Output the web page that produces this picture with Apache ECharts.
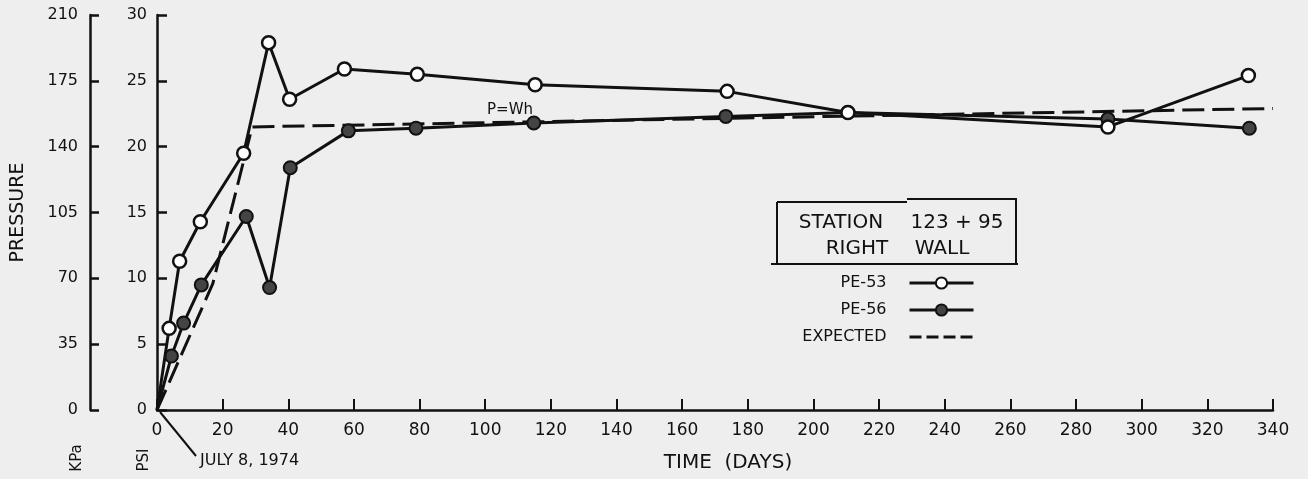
<!DOCTYPE html>
<html>
<head>
<meta charset="utf-8">
<script src="https://cdn.jsdelivr.net/npm/echarts@6/dist/echarts.min.js"></script>
<style>
  html, body { margin: 0; padding: 0; background: #eeeeee; }
  #main { width: 1308px; height: 479px; }
</style>
</head>
<body>
<div id="main"></div>
<script>
// values (days, psi)
var pe53Days = [0, 3.7, 6.9, 13.2, 26.4, 34, 40.4, 57.1, 79.3, 115.2, 173.7, 210.5, 289.7, 332.5]
var pe53Psi = [0, 6.2, 11.3, 14.3, 19.5, 27.9, 23.6, 25.9, 25.5, 24.7, 24.2, 22.6, 21.5, 25.4]

var pe56Days = [0, 4.4, 8.1, 13.5, 27.2, 34.3, 40.6, 58.3, 78.9, 114.8, 173.3, 210.5, 289.7, 332.8]
var pe56Psi = [0, 4.1, 6.6, 9.5, 14.7, 9.3, 18.4, 21.2, 21.4, 21.8, 22.3, 22.6, 22.1, 21.4]

var expectedDays = [0, 17, 29, 340]
var expectedPsi = [0, 9.6, 21.5, 22.9]

var font = 'DejaVu Sans'
var ink = '#111'

function pairs(days, vals) {
  return days.map(function (d, i) {
    // no marker drawn at the origin
    if (i === 0) return { value: [d, vals[i]], symbol: 'none' }
    return [d, vals[i]]
  })
}

var myChart = echarts.init(document.getElementById('main'))

var option = {
  backgroundColor: '#eeeeee',
  animation: false,
  grid: { left: 157, right: 35, top: 15, bottom: 69, outerBoundsMode: 'none' },
  legend: {
    orient: 'vertical',
    align: 'right',
    right: 333,
    top: 275,
    padding: 0,
    itemWidth: 64,
    itemHeight: 14,
    itemGap: 11,
    lineStyle: { width: 3 },
    textStyle: { fontFamily: font, fontSize: 16, color: ink, padding: [0, 18, 0, 0] },
    data: [
      'PE-53',
      'PE-56',
      { name: 'EXPECTED', itemStyle: { opacity: 0 }, lineStyle: { type: [12, 5], width: 3 } }
    ]
  },
  xAxis: {
    type: 'value',
    min: 0,
    max: 340,
    interval: 20,
    name: 'TIME  (DAYS)',
    nameLocation: 'middle',
    nameGap: 43,
    nameTextStyle: { fontFamily: font, fontSize: 20, color: ink, padding: [0, 0, 0, 26] },
    axisLine: { lineStyle: { color: ink, width: 2.5 } },
    axisTick: { inside: true, length: 11, lineStyle: { color: ink, width: 2 } },
    axisLabel: { fontFamily: font, fontSize: 17, color: ink, margin: 12 },
    splitLine: { show: false }
  },
  yAxis: [
    {
      type: 'value',
      min: 0,
      max: 30,
      interval: 5,
      axisLine: { show: true, lineStyle: { color: ink, width: 2.5 } },
      axisTick: { show: true, inside: true, length: 10, lineStyle: { color: ink, width: 2.5 } },
      axisLabel: { fontFamily: font, fontSize: 16, color: ink, margin: 10 },
      splitLine: { show: false }
    },
    {
      type: 'value',
      position: 'left',
      offset: 67,
      min: 0,
      max: 210,
      interval: 35,
      name: 'PRESSURE',
      nameLocation: 'middle',
      nameGap: 62,
      nameTextStyle: { fontFamily: font, fontSize: 19, color: ink },
      axisLine: { show: true, lineStyle: { color: ink, width: 2.5 } },
      axisTick: { show: true, inside: true, length: 9, lineStyle: { color: ink, width: 2.5 } },
      axisLabel: { fontFamily: font, fontSize: 16, color: ink, margin: 12 },
      splitLine: { show: false }
    }
  ],
  series: [
    {
      name: 'EXPECTED',
      type: 'line',
      data: pairs(expectedDays, expectedPsi),
      symbol: 'none',
      lineStyle: { color: ink, width: 3, type: [22, 8] },
      itemStyle: { color: ink },
      z: 1
    },
    {
      name: 'PE-53',
      type: 'line',
      data: pairs(pe53Days, pe53Psi),
      symbol: 'circle',
      symbolSize: 13,
      showAllSymbol: true,
      lineStyle: { color: ink, width: 3 },
      itemStyle: { color: '#ffffff', borderColor: ink, borderWidth: 2.5 },
      z: 3
    },
    {
      name: 'PE-56',
      type: 'line',
      data: pairs(pe56Days, pe56Psi),
      symbol: 'circle',
      symbolSize: 13,
      showAllSymbol: true,
      lineStyle: { color: ink, width: 3 },
      itemStyle: { color: '#444444', borderColor: ink, borderWidth: 2 },
      z: 2
    }
  ],
  graphic: [
    // station box
    { type: 'line', shape: { x1: 777, y1: 202, x2: 907, y2: 202 }, style: { stroke: ink, lineWidth: 2 } },
    { type: 'line', shape: { x1: 907, y1: 199, x2: 1017, y2: 199 }, style: { stroke: ink, lineWidth: 2 } },
    { type: 'line', shape: { x1: 777, y1: 202, x2: 777, y2: 263 }, style: { stroke: ink, lineWidth: 2 } },
    { type: 'line', shape: { x1: 1016, y1: 199, x2: 1016, y2: 263 }, style: { stroke: ink, lineWidth: 2 } },
    { type: 'line', shape: { x1: 771, y1: 264, x2: 1018, y2: 264 }, style: { stroke: ink, lineWidth: 2 } },
    { type: 'text', x: 841, y: 223, style: { text: 'STATION', font: '20px "DejaVu Sans"', fill: ink, align: 'center', verticalAlign: 'middle' } },
    { type: 'text', x: 957, y: 223, style: { text: '123 + 95', font: '20px "DejaVu Sans"', fill: ink, align: 'center', verticalAlign: 'middle' } },
    { type: 'text', x: 857, y: 249, style: { text: 'RIGHT', font: '20px "DejaVu Sans"', fill: ink, align: 'center', verticalAlign: 'middle' } },
    { type: 'text', x: 942, y: 249, style: { text: 'WALL', font: '20px "DejaVu Sans"', fill: ink, align: 'center', verticalAlign: 'middle' } },
    // annotations
    { type: 'text', x: 510, y: 110, style: { text: 'P=Wh', font: '15px "DejaVu Sans"', fill: ink, align: 'center', verticalAlign: 'middle' } },
    { type: 'text', x: 200, y: 461, style: { text: 'JULY 8, 1974', font: '16px "DejaVu Sans"', fill: ink, align: 'left', verticalAlign: 'middle' } },
    { type: 'line', shape: { x1: 160, y1: 412, x2: 196, y2: 456 }, style: { stroke: ink, lineWidth: 2 } },
    { type: 'text', x: 77, y: 458, rotation: Math.PI / 2, style: { text: 'KPa', font: '15px "DejaVu Sans"', fill: ink, align: 'center', verticalAlign: 'middle' } },
    { type: 'text', x: 144, y: 460, rotation: Math.PI / 2, style: { text: 'PSI', font: '15px "DejaVu Sans"', fill: ink, align: 'center', verticalAlign: 'middle' } }
  ]
}

myChart.setOption(option)
</script>
</body>
</html>
